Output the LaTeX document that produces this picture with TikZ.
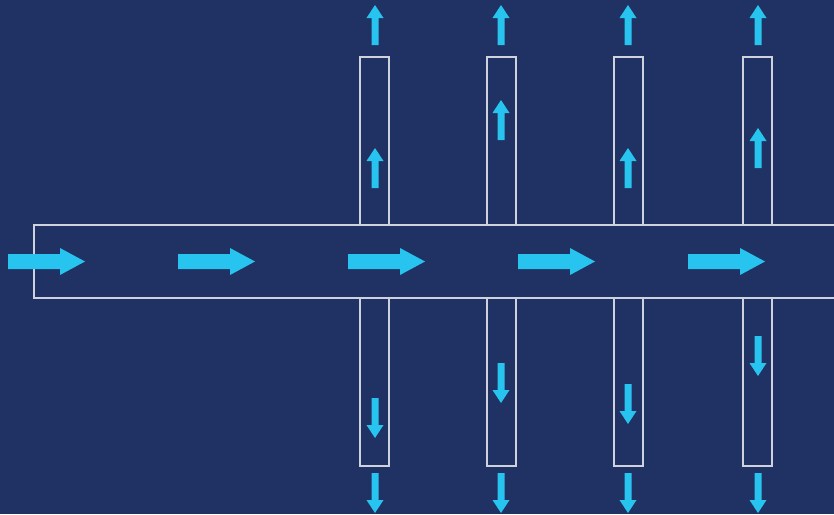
\documentclass[tikz,border=0pt]{standalone}
\definecolor{bg}{RGB}{32,49,99}
\definecolor{arr}{RGB}{40,196,240}
\definecolor{ln}{RGB}{205,210,220}
\begin{document}
\begin{tikzpicture}[x=1pt,y=-1pt,
  box/.style={draw=ln,line width=1.6pt},
  harr/.pic={\fill[arr] (0,-7.5) -- (52,-7.5) -- (52,-13.5) -- (77,0) -- (52,13.5) -- (52,7.5) -- (0,7.5) -- cycle;},
  uarr/.pic={\fill[arr] (-3.5,40) -- (-3.5,13) -- (-8.5,13) -- (0,0) -- (8.5,13) -- (3.5,13) -- (3.5,40) -- cycle;},
  darr/.pic={\fill[arr] (-3.5,0) -- (-3.5,27) -- (-8.5,27) -- (0,40) -- (8.5,27) -- (3.5,27) -- (3.5,0) -- cycle;}]
\useasboundingbox (0,0) rectangle (834,514);
\clip (0,0) rectangle (834,514);
\fill[bg] (0,0) rectangle (834,514);
% main channel
\draw[box] (34,225) rectangle (860,298);
% columns
\foreach \l/\c/\ti/\bi in {360/375/148/398, 487/501/100/363, 614/628/148/384, 743/758/128/336}{
  \draw[box] (\l,57) rectangle (\l+29,225);
  \draw[box] (\l,298) rectangle (\l+29,466);
  \pic at (\c,5) {uarr};
  \pic at (\c,\ti) {uarr};
  \pic at (\c,\bi) {darr};
  \pic at (\c,473) {darr};
}
% horizontal arrows
\foreach \x in {8,178,348,518,688}{
  \pic at (\x,261.5) {harr};
}
\end{tikzpicture}
\end{document}
